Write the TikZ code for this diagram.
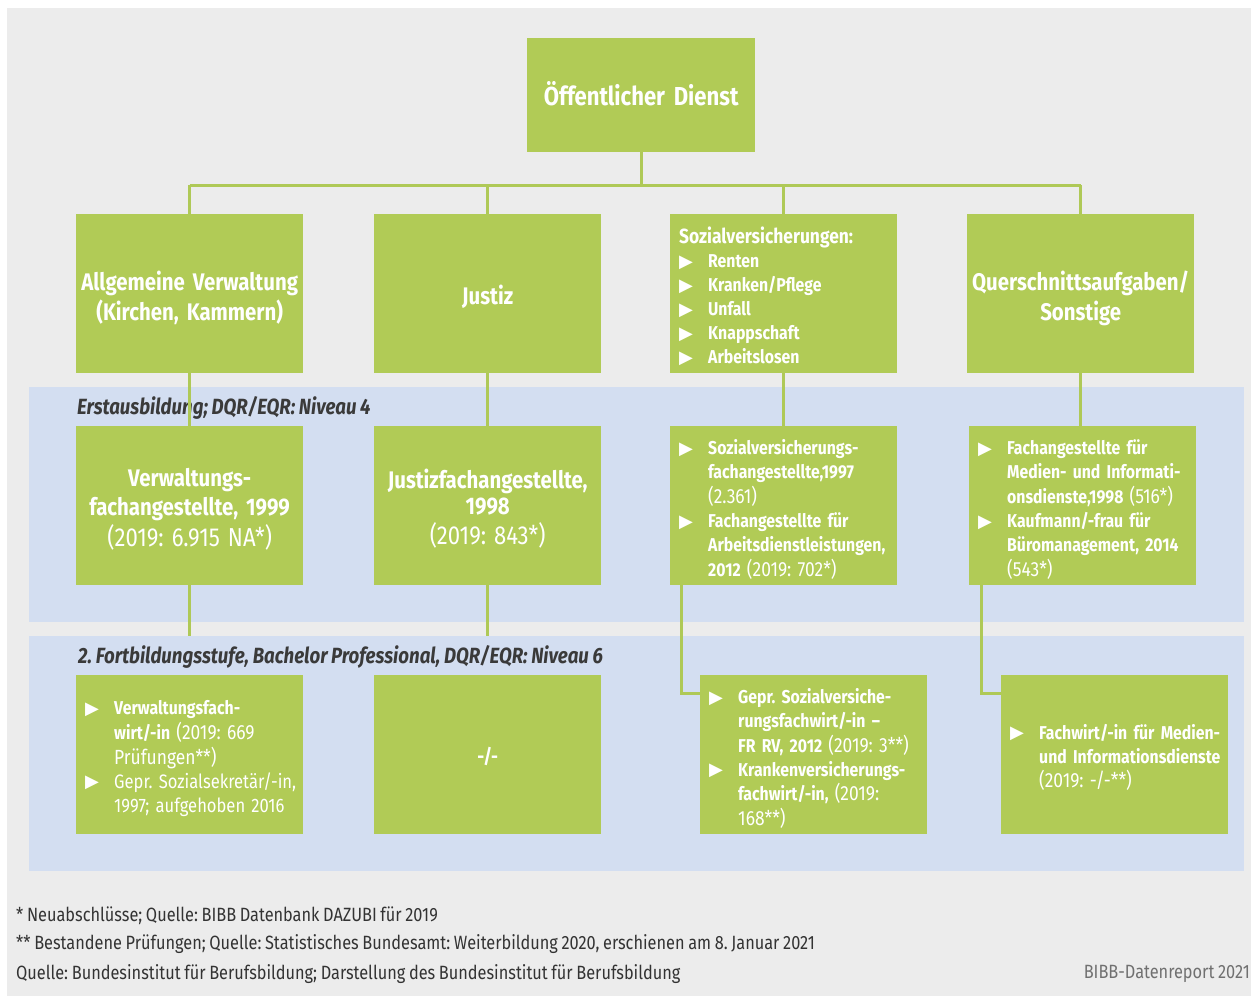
\documentclass[tikz,border=0pt]{standalone}
\usepackage{fontspec}
\setmainfont{Fira Sans}[FakeStretch=0.85, WordSpace=0.85]
\newfontfamily\dejavu{DejaVu Sans}

\definecolor{bggray}{HTML}{ECECEC}
\definecolor{boxgreen}{HTML}{B1CB56}
\definecolor{linegreen}{HTML}{AFC957}
\definecolor{bandblue}{HTML}{D3DEF1}
\definecolor{labelgray}{HTML}{3A3A3A}
\definecolor{foottext}{HTML}{333333}
\definecolor{footgray}{HTML}{707070}

\newcommand\tri{\makebox[29pt][l]{\dejavu\fontsize{18}{18}\selectfont\raisebox{0.5pt}{▶}}}
\newcommand\lt[1]{{\mdseries\fontsize{20.5}{24}\selectfont #1}}
\newcommand\ltn[1]{{\mdseries\fontsize{19.5}{24}\selectfont #1}}
\newcommand\shift[2]{\raisebox{#1}[\height][\depth]{#2}}
\frenchspacing

\tikzset{
  gbox/.style={fill=boxgreen, text=white, anchor=north west, minimum width=227pt,
    minimum height=159pt, inner xsep=9pt, inner ysep=0pt, text width=209pt,
    font=\bfseries\fontsize{18.6}{24}\selectfont\frenchspacing},
  cbox/.style={gbox, align=center, inner xsep=2pt, text width=223pt},
  lbox/.style={gbox, align=left},
  bigtext/.style={font=\bfseries\fontsize{24}{30}\selectfont\frenchspacing},
  conn/.style={draw=linegreen, line width=3pt},
  band/.style={fill=bandblue, draw=none, anchor=north west, minimum width=1215pt,
    minimum height=235pt, inner sep=0pt},
  bandlabel/.style={anchor=west, text=labelgray, inner sep=0pt,
    font=\bfseries\itshape\fontsize{22}{24}\selectfont\frenchspacing},
  foot/.style={anchor=west, text=foottext, inner sep=0pt, font=\fontsize{19.2}{22}\selectfont\frenchspacing}
}

\begin{document}
\begin{tikzpicture}[x=1pt, y=-1pt]
\useasboundingbox (0,0) rectangle (1251,996);
\fill[white] (0,0) rectangle (1251,996);
\fill[bggray] (7,8) rectangle (1251,996);

% bands
\node[band] (band1) at (29,387) {};
\node[band] (band2) at (29,636) {};
\node[bandlabel] (l1) at (77,408) {Erstausbildung; DQR/EQR: Niveau 4};
\node[bandlabel] (l2) at (78,657) {2. Fortbildungsstufe, Bachelor Professional, DQR/EQR: Niveau 6};

% top
\node[cbox, minimum width=228pt, text width=224pt, minimum height=114pt,
  font=\bfseries\fontsize{26}{30}\selectfont] (top) at (527,38) {\shift{2pt}{Öffentlicher Dienst}};

% level 2
\node[cbox, bigtext] (a1) at (76,214) {\shift{-6pt}{\begin{tabular}{@{}c@{}}Allgemeine Verwaltung\\(Kirchen, Kammern)\end{tabular}}};
\node[cbox, bigtext] (a2) at (374,214) {\shift{-3pt}{Justiz}};
\node[lbox] (a3) at (670,214) {\shift{-5pt}{\begin{tabular}{@{}l@{}l@{}}
\multicolumn{2}{@{}l@{}}{\fontsize{20.5}{24}\selectfont Sozialversicherungen:}\\
\tri & Renten\\
\tri & Kranken/Pflege\\
\tri & Unfall\\
\tri & Knappschaft\\
\tri & Arbeitslosen
\end{tabular}}};
\node[cbox, bigtext] (a4) at (967,214) {\shift{-6pt}{\begin{tabular}{@{}c@{}}Querschnittsaufgaben/\\Sonstige\end{tabular}}};

% level 3
\node[cbox, font=\bfseries\fontsize{24}{29.5}\selectfont\frenchspacing] (b1) at (76,426)
  {\shift{-5pt}{\begin{tabular}{@{}c@{}}Verwaltungs-\\fachangestellte, 1999\\\mdseries\fontsize{26}{30}\selectfont(2019: 6.915 NA*)\end{tabular}}};
\node[cbox, font=\bfseries\fontsize{24}{26}\selectfont\frenchspacing] (b2) at (374,426)
  {\shift{-5pt}{\begin{tabular}{@{}c@{}}Justizfachangestellte,\\1998\\\mdseries\fontsize{26}{26}\selectfont(2019: 843*)\end{tabular}}};
\node[lbox] (b3) at (670,426) {\shift{-5pt}{\begin{tabular}{@{}l@{}l@{}}
\tri & Sozialversicherungs-\\
     & fachangestellte,1997\\
     & \lt{(2.361)}\\
\tri & Fachangestellte für\\
     & Arbeitsdienstleistungen,\\
     & 2012 \lt{(2019: 702*)}
\end{tabular}}};
\node[lbox] (b4) at (969,426) {\shift{-5pt}{\begin{tabular}{@{}l@{}l@{}}
\tri & Fachangestellte für\\
     & Medien- und Informati-\\
     & onsdienste,1998 \lt{(516*)}\\
\tri & Kaufmann/-frau für\\
     & Büromanagement, 2014\\
     & \lt{(543*)}
\end{tabular}}};

% level 4
\node[lbox] (c1) at (76,675) {\shift{-4pt}{\begin{tabular}{@{}l@{}l@{}}
\tri & Verwaltungsfach-\\
     & wirt/-in \lt{(2019: 669}\\
     & \lt{Prüfungen**)}\\
\tri & \ltn{Gepr. Sozialsekretär/-in,}\\
     & \ltn{1997; aufgehoben 2016}
\end{tabular}}};
\node[cbox, font=\bfseries\fontsize{20}{24}\selectfont] (c2) at (374,675) {\shift{-2pt}{-/-}};
\node[lbox] (c3) at (700,675) {\shift{-5pt}{\begin{tabular}{@{}l@{}l@{}}
\tri & Gepr. Sozialversiche-\\
     & rungsfachwirt/-in –\\
     & FR RV, 2012 \lt{(2019: 3**)}\\
\tri & Krankenversicherungs-\\
     & fachwirt/-in, \lt{(2019:}\\
     & \lt{168**)}
\end{tabular}}};
\node[lbox] (c4) at (1001,675) {\shift{-4pt}{\begin{tabular}{@{}l@{}l@{}}
\tri & Fachwirt/-in für Medien-\\
     & und Informationsdienste\\
     & \lt{(2019: -/-**)}
\end{tabular}}};

% footer
\node[foot] (f1) at (16,916) {* Neuabschlüsse; Quelle: BIBB Datenbank DAZUBI für 2019};
\node[foot] (f2) at (16,944) {** Bestandene Prüfungen; Quelle: Statistisches Bundesamt: Weiterbildung 2020, erschienen am 8. Januar 2021};
\node[foot] (f3) at (16,974) {Quelle: Bundesinstitut für Berufsbildung; Darstellung des Bundesinstitut für Berufsbildung};
\node[foot, anchor=east, text=footgray] (f4) at (1250,974) {BIBB-Datenreport 2021};

% connectors
\coordinate (h1) at (a1.north |- 0,185);
\coordinate (h4) at (a4.north |- 0,185);
\draw[conn] (top.south) -- (top.south |- h1);
\draw[conn] (h1) -- (h4);
\draw[conn] (h1) -- (a1.north);
\draw[conn] (a2.north |- h1) -- (a2.north);
\draw[conn] (a3.north |- h1) -- (a3.north);
\draw[conn] (h4) -- (a4.north);

\draw[conn] (a1.south) -- (b1.north);
\draw[conn] (a2.south) -- (b2.north);
\draw[conn] (a3.south) -- (b3.north);
\draw[conn] (a4.south) -- (a4.south |- b4.north);

\draw[conn] (b1.south) -- (b1.south |- band2.north);
\draw[conn] (b2.south) -- (b2.south |- band2.north);
\draw[conn] ([xshift=11pt]b3.south west) |- ([yshift=-18pt]c3.north west);
\draw[conn] ([xshift=12pt]b4.south west) |- ([yshift=-18pt]c4.north west);
\end{tikzpicture}
\end{document}
